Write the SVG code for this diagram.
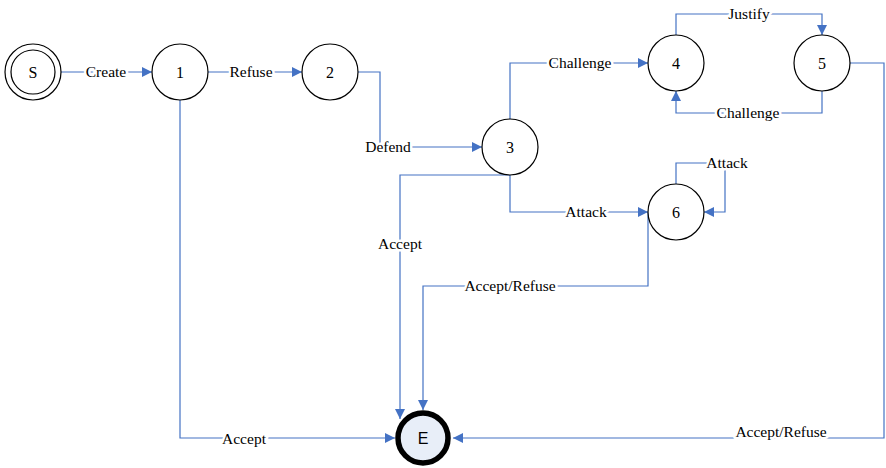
<svg xmlns="http://www.w3.org/2000/svg" width="886" height="468" viewBox="0 0 886 468">
<style>
.n{fill:#fff;stroke:#000;stroke-width:1.2}
.t{font-family:"Liberation Serif","Times New Roman",serif;font-size:16px;fill:#000;text-anchor:middle;dominant-baseline:central}
.c{fill:none;stroke:#4472C4;stroke-width:1.2}
.l{font-family:"Liberation Serif","Times New Roman",serif;font-size:15.5px;fill:#000;text-anchor:middle;dominant-baseline:central;stroke:#fff;stroke-width:5;paint-order:stroke;stroke-linejoin:round}
</style>
<defs>
<marker id="a" viewBox="0 0 10 10" refX="10" refY="5" markerWidth="10" markerHeight="10" markerUnits="userSpaceOnUse" orient="auto">
<path d="M0,0 L10,5 L0,10 z" fill="#4472C4"/>
</marker>
</defs>
<g id="connectors">
<path class="c" d="M61,72 H152" marker-end="url(#a)"/>
<path class="c" d="M208,72 H302" marker-end="url(#a)"/>
<path class="c" d="M358,72 H380 V147 H482" marker-end="url(#a)"/>
<path class="c" d="M510,119 V63 H648" marker-end="url(#a)"/>
<path class="c" d="M676,35 V14 H822 V35" marker-end="url(#a)"/>
<path class="c" d="M822,91 V113 H676 V91" marker-end="url(#a)"/>
<path class="c" d="M510,175 V212 H648" marker-end="url(#a)"/>
<path class="c" d="M676,184 V163 H725 V212 H704" marker-end="url(#a)"/>
<path class="c" d="M510,175 H400 V419" marker-end="url(#a)"/>
<path class="c" d="M648,212 V286 H423 V410" marker-end="url(#a)"/>
<path class="c" d="M180,100 V438 H395" marker-end="url(#a)"/>
<path class="c" d="M850,63 H884 V438 H453" marker-end="url(#a)"/>
<text class="l" x="106" y="71">Create</text>
<text class="l" x="251" y="71">Refuse</text>
<text class="l" x="388" y="146">Defend</text>
<text class="l" x="580" y="62">Challenge</text>
<text class="l" x="749" y="13">Justify</text>
<text class="l" x="748" y="112">Challenge</text>
<text class="l" x="586" y="211">Attack</text>
<text class="l" x="727" y="162">Attack</text>
<text class="l" x="400" y="243">Accept</text>
<text class="l" x="510" y="285">Accept/Refuse</text>
<text class="l" x="244" y="438">Accept</text>
<text class="l" x="781" y="431">Accept/Refuse</text>
</g>
<g id="S">
<circle class="n" cx="33" cy="72" r="28"/>
<circle class="n" cx="33" cy="72" r="22"/>
<text class="t" x="33" y="72">S</text>
</g>
<g id="n1"><circle class="n" cx="180" cy="72" r="28"/><text class="t" x="180" y="72">1</text></g>
<g id="n2"><circle class="n" cx="330" cy="72" r="28"/><text class="t" x="330" y="72">2</text></g>
<g id="n3"><circle class="n" cx="510" cy="147" r="28"/><text class="t" x="510" y="147">3</text></g>
<g id="n4"><circle class="n" cx="676" cy="63" r="28"/><text class="t" x="676" y="63">4</text></g>
<g id="n5"><circle class="n" cx="822" cy="63" r="28"/><text class="t" x="822" y="63">5</text></g>
<g id="n6"><circle class="n" cx="676" cy="212" r="28"/><text class="t" x="676" y="212">6</text></g>
<g id="E">
<circle cx="423" cy="438" r="25" fill="#E8EEF8" stroke="#000" stroke-width="5.5"/>
<text x="423" y="438" font-family="Liberation Sans,Arial,sans-serif" font-size="16" text-anchor="middle" dominant-baseline="central">E</text>
</g>
</svg>
